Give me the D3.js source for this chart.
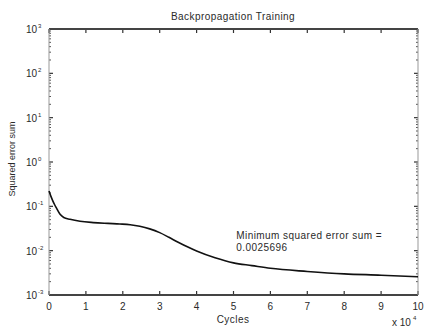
<!DOCTYPE html>
<html>
<head>
<meta charset="utf-8">
<script src="https://cdn.jsdelivr.net/npm/d3@7"></script>
<style>
  body { margin: 0; background: #fff; }
  svg { display: block; font-family: "Liberation Sans", Arial, sans-serif; }
</style>
</head>
<body>
<div id="graph"></div>
<script>
// Data (cycles in units of 10^4)
const cycles = [0, 0.05, 0.1, 0.15, 0.2, 0.3, 0.4, 0.57, 0.84, 1.2, 1.6, 1.92, 2.2, 2.46, 2.73, 3.0, 3.25, 3.5, 3.75, 4.0, 4.5, 5, 5.5, 6, 7, 8, 9, 10];
const errorSum = [0.222, 0.17, 0.135, 0.11, 0.092, 0.066, 0.056, 0.051, 0.046, 0.043, 0.0412, 0.0400, 0.0385, 0.0355, 0.031, 0.0255, 0.020, 0.0155, 0.0122, 0.0098, 0.0069, 0.0053, 0.0046, 0.0040, 0.0034, 0.0030, 0.0028, 0.00257];
const xTicks = [0, 1, 2, 3, 4, 5, 6, 7, 8, 9, 10];
const yExponents = [-3, -2, -1, 0, 1, 2, 3];
const titleText = "Backpropagation Training";
const annotationLines = ["Minimum squared error sum =", "0.0025696"];

const width = 424, height = 329;
const margin = {top: 29, right: 6, bottom: 34, left: 49};

const svg = d3.select("#graph").append("svg")
    .attr("width", width)
    .attr("height", height);

// Scales in page coordinates
const x = d3.scaleLinear().domain([0, 10]).range([margin.left, width - margin.right]);
const y = d3.scaleLog().domain([1e-3, 1e3]).range([height - margin.bottom, margin.top]);
const [x0, x1] = x.range();
const [yb, yt] = y.range();

const textColor = "#2a2a2a";
const spacing = "0.45px";

// Minor log ticks on left and right
const minorTicks = [];
yExponents.slice(0, -1).forEach(e => {
    for (let k = 2; k <= 9; k++) minorTicks.push(k * Math.pow(10, e));
});
minorTicks.forEach(v => {
    svg.append("line").attr("x1", x0).attr("x2", x0 + 2)
        .attr("y1", y(v)).attr("y2", y(v)).attr("stroke", "#555");
    svg.append("line").attr("x1", x1).attr("x2", x1 - 2)
        .attr("y1", y(v)).attr("y2", y(v)).attr("stroke", "#555");
});
yExponents.forEach(e => {
    const v = Math.pow(10, e);
    svg.append("line").attr("x1", x0).attr("x2", x0 + 4)
        .attr("y1", y(v)).attr("y2", y(v)).attr("stroke", "#333").attr("stroke-width", 1.2);
    svg.append("line").attr("x1", x1).attr("x2", x1 - 4)
        .attr("y1", y(v)).attr("y2", y(v)).attr("stroke", "#333").attr("stroke-width", 1.2);
    svg.append("text")
        .attr("x", x0 - 12)
        .attr("y", y(v) + 4)
        .attr("text-anchor", "end")
        .attr("font-size", 10)
        .attr("fill", textColor)
        .text("10");
    svg.append("text")
        .attr("x", x0 - 11)
        .attr("y", y(v) - 1)
        .attr("font-size", 6)
        .attr("fill", textColor)
        .text(e);
});

// x ticks on bottom and top
xTicks.forEach(d => {
    svg.append("line").attr("x1", x(d)).attr("x2", x(d))
        .attr("y1", yb).attr("y2", yb - 4).attr("stroke", "#333").attr("stroke-width", 1.2);
    svg.append("line").attr("x1", x(d)).attr("x2", x(d))
        .attr("y1", yt).attr("y2", yt + 4).attr("stroke", "#333").attr("stroke-width", 1.2);
    svg.append("text")
        .attr("x", x(d))
        .attr("y", yb + 15)
        .attr("text-anchor", "middle")
        .attr("font-size", 10)
        .attr("fill", textColor)
        .text(d);
});

// Box
svg.append("line").attr("x1", x0).attr("x2", x1).attr("y1", yb).attr("y2", yb)
    .attr("stroke", "#444").attr("stroke-width", 1.8);
svg.append("line").attr("x1", x0).attr("x2", x1).attr("y1", yt).attr("y2", yt)
    .attr("stroke", "#444").attr("stroke-width", 1.8);
svg.append("line").attr("x1", x0).attr("x2", x0).attr("y1", yt).attr("y2", yb)
    .attr("stroke", "#999").attr("stroke-width", 1);
svg.append("line").attr("x1", x1).attr("x2", x1).attr("y1", yt).attr("y2", yb)
    .attr("stroke", "#999").attr("stroke-width", 1);

// Curve
const data = cycles.map((c, i) => ({c, v: errorSum[i]}));
svg.append("path")
    .datum(data)
    .attr("fill", "none")
    .attr("stroke", "#111")
    .attr("stroke-width", 1.6)
    .attr("d", d3.line().x(d => x(d.c)).y(d => y(d.v)).curve(d3.curveMonotoneX));

// Annotation
annotationLines.forEach((s, i) => {
    svg.append("text")
        .attr("x", x(5.1) - 1)
        .attr("y", 239 + i * 12)
        .attr("font-size", 10)
        .attr("letter-spacing", spacing)
        .attr("fill", textColor)
        .text(s);
});

// Title and labels
svg.append("text")
    .attr("x", 233)
    .attr("y", 20)
    .attr("text-anchor", "middle")
    .attr("font-size", 10)
    .attr("letter-spacing", spacing)
    .attr("fill", textColor)
    .text(titleText);

svg.append("text")
    .attr("x", 233)
    .attr("y", 323)
    .attr("text-anchor", "middle")
    .attr("font-size", 10)
    .attr("letter-spacing", spacing)
    .attr("fill", textColor)
    .text("Cycles");

svg.append("text")
    .attr("transform", `translate(15,${margin.top + 130}) rotate(-90)`)
    .attr("text-anchor", "middle")
    .attr("font-size", 9)
    .attr("fill", textColor)
    .text("Squared error sum");

svg.append("text")
    .attr("x", 392)
    .attr("y", 326)
    .attr("font-size", 10)
    .attr("fill", textColor)
    .text("x 10");
svg.append("text")
    .attr("x", 413)
    .attr("y", 320)
    .attr("font-size", 6)
    .attr("fill", textColor)
    .text("4");
</script>
</body>
</html>
